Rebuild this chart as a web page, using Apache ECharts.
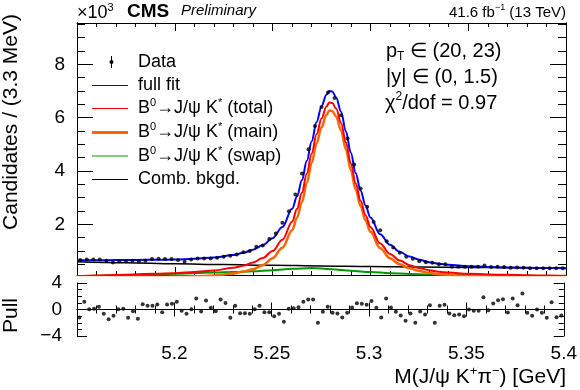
<!DOCTYPE html>
<html><head><meta charset="utf-8">
<script src="https://cdn.jsdelivr.net/npm/echarts@6/dist/echarts.min.js"></script>
<style>html,body{margin:0;padding:0;background:#fff}#c{width:580px;height:390px}</style>
</head><body><div id="c"></div>
<script>
// ---- data (counts in units of 10^3) ----
const xMin = 5.15, xMax = 5.4;
const nBins = 75;
const dataCounts = [0.66,0.68,0.68,0.68,0.63,0.57,0.62,0.62,0.63,0.62,
 0.63,0.70,0.71,0.70,0.70,0.66,0.60,0.68,0.72,0.72,
 0.72,0.75,0.78,0.82,0.87,0.95,1.00,1.16,1.21,1.45,
 1.66,2.06,2.49,3.12,3.91,4.82,5.69,6.40,6.94,6.74,
 6.09,5.22,4.24,3.34,2.66,2.09,1.78,1.37,1.13,0.93,
 0.78,0.71,0.62,0.58,0.56,0.50,0.50,0.41,0.41,0.41,
 0.41,0.41,0.46,0.40,0.41,0.40,0.37,0.38,0.37,0.35,
 0.35,0.35,0.35,0.35,0.35];
const nPull = 100;
const pullValues = [-1.2,1.16,0.05,0.1,0.4,-0.65,-1.46,-0.95,0.05,0.1,
 -1.26,-0.25,-1.41,0.8,0.55,0.55,0.75,-0.4,0.75,0.85,
 1.16,-0.2,-0.65,0.05,1.66,-0.3,1.36,0.25,-0.25,1.5,
 1.0,-1.26,0.55,-0.55,-0.55,-0.65,0.05,0.55,-0.4,-0.4,
 -1.0,-0.65,-1.86,0.1,0.2,0.35,1.18,1.5,1.5,-2.0,
 -0.35,0.4,-0.5,-0.6,-1.2,-0.5,0.3,0.95,0.85,0.7,
 1.3,0.25,-1.2,1.66,0.3,-0.35,-0.9,-1.7,-0.6,-2.0,
 -0.3,-0.75,0.65,-2.0,0.55,0.7,-0.6,-0.85,-0.75,-1.0,
 0.0,-0.2,-0.2,1.86,-0.1,0.9,1.4,1.56,-0.45,1.66,
 0.65,2.4,-0.5,-0.95,0.0,-0.5,-1.26,1.1,-1.16,-0.9];
const fitX = [5.15,5.16,5.17,5.18,5.19,5.20,5.21,5.22,5.23,5.235,5.24,5.245,5.25,5.255,5.26,5.2625,5.265,5.2675,5.27,5.2725,5.275,5.2775,5.279,5.2805,5.2825,5.285,5.2875,5.29,5.2925,5.295,5.2975,5.30,5.305,5.31,5.315,5.32,5.325,5.33,5.335,5.34,5.35,5.36,5.37,5.38,5.39,5.40];
const fullFit = [0.65,0.655,0.66,0.665,0.67,0.68,0.71,0.76,0.85,0.93,1.05,1.22,1.48,1.90,2.58,3.05,3.66,4.38,5.12,5.84,6.42,6.86,7.00,6.98,6.76,6.22,5.48,4.68,3.92,3.26,2.71,2.26,1.63,1.23,0.97,0.79,0.67,0.58,0.52,0.48,0.43,0.40,0.385,0.37,0.36,0.355];
const totalSig = [0.05,0.08,0.10,0.12,0.15,0.17,0.21,0.27,0.37,0.45,0.57,0.74,1.00,1.42,2.10,2.58,3.19,3.91,4.66,5.39,5.97,6.42,6.57,6.55,6.34,5.80,5.07,4.28,3.53,2.88,2.34,1.90,1.28,0.89,0.64,0.47,0.36,0.28,0.22,0.19,0.15,0.12,0.105,0.09,0.08,0.07];
const mainSig = [0.01,0.01,0.02,0.03,0.03,0.04,0.05,0.08,0.16,0.23,0.32,0.47,0.73,1.12,1.78,2.25,2.84,3.55,4.31,5.04,5.64,6.10,6.27,6.25,6.04,5.52,4.80,4.03,3.30,2.68,2.15,1.72,1.10,0.73,0.50,0.35,0.25,0.18,0.13,0.10,0.07,0.05,0.04,0.03,0.02,0.02];
const swapX = [5.15,5.16,5.17,5.18,5.19,5.20,5.21,5.22,5.23,5.24,5.25,5.26,5.27,5.28,5.29,5.30,5.31,5.32,5.33,5.34,5.35,5.36,5.37,5.38,5.39,5.40];
const swapSig = [0.05,0.07,0.09,0.11,0.13,0.15,0.17,0.19,0.21,0.24,0.28,0.33,0.36,0.32,0.26,0.21,0.17,0.14,0.12,0.11,0.10,0.09,0.08,0.07,0.06,0.05];
const combX = [5.15,5.175,5.20,5.225,5.25,5.275,5.30,5.325,5.35,5.375,5.40];
const combBkg = [0.60,0.56,0.52,0.49,0.465,0.44,0.42,0.40,0.385,0.37,0.355];
const yMajorTicks = [2,4,6,8];
const yMinorTicks = [0.5,1,1.5,2.5,3,3.5,4.5,5,5.5,6.5,7,7.5,8.5,9,9.5];

// ---- build ----
const zip = (xs, ys) => xs.map((x, i) => [x, ys[i]]);
const bw = (xMax - xMin) / nBins;
const dataPts = dataCounts.map((v, i) => [xMin + (i + 0.5) * bw, v]);
const pw = (xMax - xMin) / nPull;
const pullPts = pullValues.map((v, i) => [xMin + (i + 0.5) * pw, v]);

const FONT = '"Liberation Sans", Arial, Helvetica, sans-serif';
const axLine = {show: true, lineStyle: {color: '#000', width: 1}};

function xAx(grid, pos, labels, tl, ml) {
  return {type: 'value', gridIndex: grid, position: pos, min: xMin, max: xMax, interval: 0.05,
    axisLine: axLine, splitLine: {show: false},
    axisTick: {show: true, inside: true, length: tl, lineStyle: {color: '#000'}},
    minorTick: {show: true, splitNumber: 5, length: ml, lineStyle: {color: '#000'}},
    axisLabel: {show: labels, showMinLabel: false, margin: 8, color: '#000', fontSize: 19, fontFamily: FONT,
      formatter: v => String(+v.toFixed(3))}};
}
function yUp(pos, major, labels) {
  return {type: 'value', gridIndex: 0, position: pos, min: 0.1, max: 9.55,
    axisLine: axLine, splitLine: {show: false},
    axisTick: {show: true, inside: true, length: major ? 16 : 8, customValues: major ? yMajorTicks : yMinorTicks, lineStyle: {color: '#000'}},
    axisLabel: {show: labels, customValues: yMajorTicks, margin: 12, color: '#000', fontSize: 19, fontFamily: FONT}};
}
function yPull(pos, labels) {
  return {type: 'value', gridIndex: 1, position: pos, min: -4, max: 4, interval: 4,
    axisLine: axLine, splitLine: {show: false},
    axisTick: {show: true, inside: true, length: 10, lineStyle: {color: '#000'}},
    minorTick: {show: true, splitNumber: 4, length: 5, lineStyle: {color: '#000'}},
    axisLabel: {show: labels, margin: 15, color: '#000', fontSize: 19, fontFamily: FONT,
      formatter: v => String(v).replace('-', '\u2212')}};
}
function lineSeries(name, pts, color, width, z) {
  return {name, type: 'line', xAxisIndex: 0, yAxisIndex: 0, data: pts, showSymbol: false,
    smooth: 0.35, smoothMonotone: 'x', clip: true, z,
    lineStyle: {color, width}, itemStyle: {color}};
}

const sup = {fontSize: 11, fontFamily: FONT, verticalAlign: 'top', fill: '#000'};
const sub = {fontSize: 11, fontFamily: FONT, verticalAlign: 'bottom', fill: '#000'};
function rt(size, extra) {
  return Object.assign({a: {fontSize: size, fontFamily: FONT, fill: '#000', lineHeight: size + 4},
    s: Object.assign({}, sup, {fontSize: Math.round(size * 0.62)}),
    b: Object.assign({}, sub, {fontSize: Math.round(size * 0.62)})}, extra || {});
}
function txt(x, y, text, size, align, extra) {
  return {type: 'text', x, y, z: 100, style: {text, rich: rt(size), align: align || 'left', verticalAlign: 'middle', fill: '#000', fontFamily: FONT, fontSize: size}, ...(extra || {})};
}

const legendY = [62, 85.5, 108.5, 132.5, 156, 179.5];
const legendItems = [
  {label: 'full fit', color: '#0000ff', w: 1},
  {label: '{a|B}{s|0}{a|\u2192J/\u03c8 K}{s|*}{a| (total)}', color: '#ff0000', w: 1},
  {label: '{a|B}{s|0}{a|\u2192J/\u03c8 K}{s|*}{a| (main)}', color: '#ff6600', w: 3},
  {label: '{a|B}{s|0}{a|\u2192J/\u03c8 K}{s|*}{a| (swap)}', color: '#009900', w: 1},
  {label: 'Comb. bkgd.', color: '#000000', w: 1}
];
const graphics = [];
graphics.push({type: 'line', z: 100, shape: {x1: 111.5, y1: 56, x2: 111.5, y2: 68}, style: {stroke: '#000', lineWidth: 1}});
graphics.push({type: 'circle', z: 100, shape: {cx: 111.5, cy: 62, r: 2}, style: {fill: '#000'}});
graphics.push(txt(138, 62, '{a|Data}', 18));
legendItems.forEach((it, k) => {
  const y = legendY[k + 1];
  graphics.push({type: 'line', z: 100, shape: {x1: 92, y1: y, x2: 128, y2: y}, style: {stroke: it.color, lineWidth: it.w}});
  const t = it.label.startsWith('{') ? it.label : '{a|' + it.label + '}';
  graphics.push(txt(138, y, t, 18));
});
graphics.push(txt(386, 51, '{a|p}{b|T}{a| \u2208 (20, 23)}', 20));
graphics.push(txt(386, 77, '{a||y| \u2208 (0, 1.5)}', 20));
graphics.push(txt(385, 103, '{a|\u03c7}{s|2}{a|/dof = 0.97}', 20));
graphics.push(txt(77, 13, '{a|\u00d710}{s|3}', 18));
graphics.push({type: 'text', x: 127, y: 12, z: 100, style: {text: 'CMS', fontSize: 19, fontWeight: 'bold', fontFamily: FONT, fill: '#000', verticalAlign: 'middle'}});
graphics.push({type: 'text', x: 181, y: 11, z: 100, style: {text: 'Preliminary', fontSize: 15, fontStyle: 'italic', fontFamily: FONT, fill: '#000', verticalAlign: 'middle'}});
graphics.push(txt(566, 13, '{a|41.6 fb}{s|\u22121}{a| (13 TeV)}', 15, 'right'));
graphics.push(txt(566, 377, '{a|M(J/\u03c8 K}{s|+}{a|\u03c0}{s|\u2212}{a|) [GeV]}', 21, 'right'));
graphics.push(Object.assign(txt(11, 14, '{a|Candidates / (3.3 MeV)}', 21, 'right'), {rotation: Math.PI / 2}));
graphics.push(Object.assign(txt(11, 298, '{a|Pull}', 21, 'right'), {rotation: Math.PI / 2}));

const option = {
  animation: false,
  backgroundColor: '#fff',
  grid: [
    {left: 77, top: 23, width: 489, height: 252},
    {left: 77, top: 283, width: 489, height: 53}
  ],
  xAxis: [xAx(0, 'bottom', false, 8, 4), xAx(0, 'top', false, 8, 4), xAx(1, 'bottom', true, 7, 4), xAx(1, 'top', false, 7, 4)],
  yAxis: [yUp('left', true, true), yUp('left', false, false), yUp('right', true, false), yUp('right', false, false),
    yPull('left', true), yPull('right', false)],
  series: [
    lineSeries('Comb. bkgd.', zip(combX, combBkg), '#000000', 1.5, 2),
    lineSeries('swap', zip(swapX, swapSig), '#009900', 2, 3),
    lineSeries('main', zip(fitX, mainSig), '#ff6600', 2.5, 4),
    lineSeries('total', zip(fitX, totalSig), '#ff0000', 2, 5),
    lineSeries('full fit', zip(fitX, fullFit), '#0000ff', 2, 6),
    {name: 'Data', type: 'scatter', xAxisIndex: 0, yAxisIndex: 0, data: dataPts, symbol: 'circle', symbolSize: 4, z: 10, itemStyle: {color: '#000'}},
    {name: 'Pull', type: 'scatter', xAxisIndex: 2, yAxisIndex: 4, data: pullPts, symbol: 'circle', symbolSize: 4, z: 10, itemStyle: {color: '#000'},
      markLine: {silent: true, symbol: 'none', label: {show: false}, lineStyle: {color: '#000', width: 1, type: 'solid'}, data: [{yAxis: 0}]}}
  ],
  graphic: graphics
};
const chart = echarts.init(document.getElementById('c'), null, {renderer: 'canvas'});
chart.setOption(option);
</script></body></html>
